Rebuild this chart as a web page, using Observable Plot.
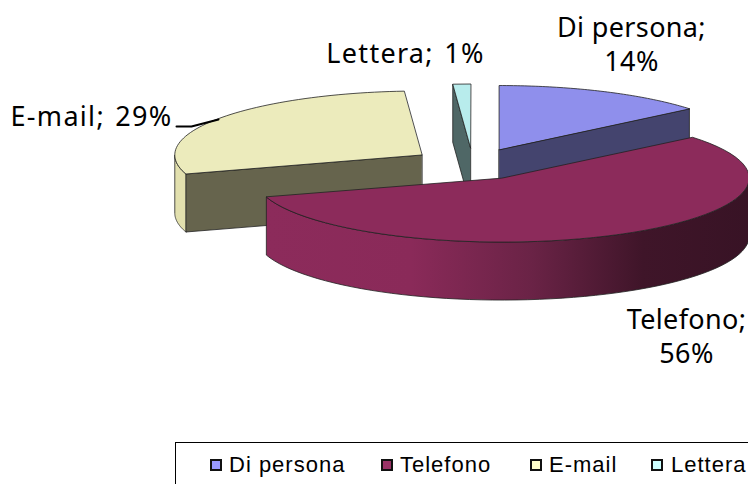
<!DOCTYPE html>
<html>
<head>
<meta charset="utf-8">
<script src="https://cdn.jsdelivr.net/npm/d3@7"></script>
<script src="https://cdn.jsdelivr.net/npm/@observablehq/plot@0.6"></script>
<style>
html,body{margin:0;padding:0;background:#fff;width:748px;height:484px;overflow:hidden}
#chart svg{display:block}
#legend{position:absolute;left:175px;top:442px;width:573px;height:42px;box-sizing:border-box;border-top:1px solid #000;border-left:1px solid #000;font-family:"Liberation Sans",Arial,sans-serif;font-size:22px;letter-spacing:1px;color:#000;overflow:hidden}
#legend .s{position:absolute;top:16px;width:8px;height:8px;border:2px solid #111}
#legend .t{position:absolute;top:10px;line-height:24px;white-space:nowrap}
</style>
</head>
<body>
<div id="chart"></div>
<div id="legend"></div>
<script>
const categories = ["Di persona", "Telefono", "E-mail", "Lettera"];
const shares = [14, 56.2, 28.65, 1.15];
const topColors = ["#8f8fec", "#8c2b5b", "#ecebbc", "#b8ecec"];
const cutColors = ["#44446e", "#8c2b5b", "#66644d", "#4f6766"];
const wallColors = ["#44446e", "url(#wallTelefono)", "#e2e0ae", "#4f6766"];
const legendColors = ["#9999ff", "#993366", "#ffffcc", "#ccffff"];
const legendSwatchLeft = [34, 205, 354, 475];
const legendTextLeft = [53, 224, 373, 495];

const explode = 0.25, depth = 58 / 64;
const total = d3.sum(shares);
let acc = 0;
const slices = shares.map((v, i) => {
  const a0 = acc / total * 2 * Math.PI; acc += v;
  const a1 = acc / total * 2 * Math.PI, m = (a0 + a1) / 2;
  return {i, a0, a1, ox: explode * Math.sin(m), oy: explode * Math.cos(m)};
});
const pt = (s, a, z = 0) => ({x: s.ox + Math.sin(a), y: s.oy + Math.cos(a) - z * depth});
const apex = (s, z = 0) => ({x: s.ox, y: s.oy - z * depth});
const arc = (s, a0, a1, z = 0) => d3.range(0, 61).map(k => pt(s, a0 + (a1 - a0) * k / 60, z));
const poly = (points, fill, stroke = "#222") =>
  Plot.line(points, {x: "x", y: "y", fill, stroke, strokeWidth: 0.8, curve: "linear-closed"});
const topFace = s => poly([apex(s), ...arc(s, s.a0, s.a1)], topColors[s.i]);
const cutFace = (s, a, fill) => poly([apex(s), pt(s, a), pt(s, a, 1), apex(s, 1)], fill);
const wallFace = (s, a0, a1) => poly([...arc(s, a0, a1), ...arc(s, a1, a0, 1)], wallColors[s.i]);

// pixel frame of the unit pie
const cx = 472.3, cy = 163.5, rx = 247, ry = 64;
const X = px => (px - cx) / rx, Y = py => (cy - py) / ry;

const [sDi, sTel, sEm, sLet] = slices;
const pct = d3.format(".0f");
const label = (i, sep, px, py) => Plot.text([{x: X(px), y: Y(py), t: `${categories[i]};${sep}${pct(shares[i])}%`}], {
  x: "x", y: "y", text: "t", fontSize: 27, fontFamily: "'Noto Sans',Tahoma,sans-serif",
  fill: "#000", textAnchor: "middle", lineAnchor: "middle", lineHeight: 1.26
});

const defs = () => {
  const d = d3.create("svg:defs");
  const g = d.append("linearGradient").attr("id", "wallTelefono");
  [[0, "#8c2b5b"], [0.3, "#8a2a59"], [0.55, "#6a2346"], [0.78, "#3f1529"], [1, "#381325"]].forEach(([o, c]) =>
    g.append("stop").attr("offset", o).attr("stop-color", c));
  return d.node();
};

const chart = Plot.plot({
  width: 748, height: 442, margin: 0,
  x: {domain: [-1, 1], range: [cx - rx, cx + rx], axis: null},
  y: {domain: [-1, 1], range: [cy + ry, cy - ry], axis: null},
  marks: [
    defs,
    cutFace(sLet, sLet.a0, cutColors[3]),
    poly([apex(sLet), pt(sLet, sLet.a0), pt(sLet, sLet.a1)], topColors[3]),
    cutFace(sDi, sDi.a1, cutColors[0]),
    topFace(sDi),
    wallFace(sEm, sEm.a0, 1.5 * Math.PI),
    cutFace(sEm, sEm.a0, cutColors[2]),
    topFace(sEm),
    wallFace(sTel, 0.5 * Math.PI, sTel.a1),
    topFace(sTel),
    Plot.line([{x: X(176), y: Y(126)}, {x: X(191), y: Y(126)}, {x: X(218), y: Y(119)}],
      {x: "x", y: "y", stroke: "#000", strokeWidth: 2}),
    label(0, "\n", 631, 43),
    label(1, "\n", 686, 335),
    label(2, " ", 91, 115),
    label(3, " ", 405, 52)
  ]
});
document.getElementById("chart").append(chart);
chart.querySelectorAll("text").forEach(t => {
  const single = !t.querySelector("tspan");
  t.style.letterSpacing = single ? "1.3px" : "0.35px";
  if (single) t.style.wordSpacing = "2px";
});

const lg = d3.select("#legend");
categories.forEach((c, i) => {
  lg.append("span").attr("class", "s").style("left", legendSwatchLeft[i] + "px").style("background", legendColors[i]);
  lg.append("span").attr("class", "t").style("left", legendTextLeft[i] + "px").text(c);
});
</script>
</body>
</html>
